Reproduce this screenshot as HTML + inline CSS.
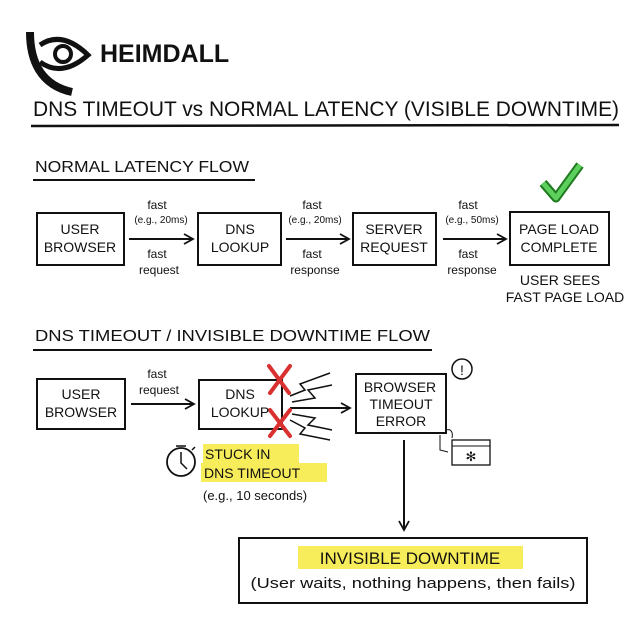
<!DOCTYPE html>
<html><head><meta charset="utf-8"><style>
html,body{margin:0;padding:0;background:#fff}
svg{display:block}
text{font-family:"Liberation Sans",sans-serif;fill:#111}
.b{font-size:14px}
.s{font-size:11px}
</style></head><body>
<svg width="640" height="640" viewBox="0 0 640 640" xmlns="http://www.w3.org/2000/svg">
<defs><marker id="ah" markerWidth="12" markerHeight="12" refX="10" refY="6" orient="auto" markerUnits="userSpaceOnUse"><path d="M1,1 L10,6 L1,11" fill="none" stroke="#111" stroke-width="1.8"/></marker></defs>
<!-- logo -->
<g fill="none" stroke="#111">
<path d="M30,32 C30,60 40,85 72,92" stroke-width="8"/>
<path d="M40,45 Q62,30 88,55 Q62,78 40,62" stroke-width="5"/>
<circle cx="63" cy="54" r="8" stroke-width="4"/>
</g>
<text x="100" y="62" style="font-size:25px;font-weight:bold">HEIMDALL</text>
<!-- title -->
<text x="33" y="116" style="font-size:21px" textLength="586" lengthAdjust="spacingAndGlyphs">DNS TIMEOUT vs NORMAL LATENCY (VISIBLE DOWNTIME)</text>
<path d="M31,126 L619,125" stroke="#111" stroke-width="2.5"/>
<text x="35" y="172" style="font-size:16px" textLength="214" lengthAdjust="spacingAndGlyphs">NORMAL LATENCY FLOW</text>
<path d="M33,180 L255,180" stroke="#111" stroke-width="2"/>
<!-- row1 boxes -->
<g fill="none" stroke="#111" stroke-width="2">
<rect x="37" y="213" width="87" height="52"/>
<rect x="198" y="213" width="83" height="52"/>
<rect x="353" y="213" width="83" height="52"/>
<rect x="510" y="212" width="99" height="53"/>
<line x1="129" y1="239" x2="193" y2="239" marker-end="url(#ah)"/>
<line x1="286" y1="239" x2="349" y2="239" marker-end="url(#ah)"/>
<line x1="443" y1="239" x2="506" y2="239" marker-end="url(#ah)"/>
</g>
<g class="b" text-anchor="middle">
<text x="80" y="234">USER</text><text x="80" y="252">BROWSER</text>
<text x="240" y="234">DNS</text><text x="240" y="252">LOOKUP</text>
<text x="394" y="234">SERVER</text><text x="394" y="252">REQUEST</text>
<text x="559" y="234">PAGE LOAD</text><text x="559" y="252">COMPLETE</text>
<text x="560" y="285">USER SEES</text><text x="565" y="302">FAST PAGE LOAD</text>
</g>
<g class="s" text-anchor="middle">
<text x="157" y="209" style="font-size:12px">fast</text><text x="161" y="223" style="font-size:10px">(e.g., 20ms)</text>
<text x="157" y="258" style="font-size:12px">fast</text><text x="159" y="274" style="font-size:12px">request</text>
<text x="312" y="209" style="font-size:12px">fast</text><text x="315" y="223" style="font-size:10px">(e.g., 20ms)</text>
<text x="312" y="258" style="font-size:12px">fast</text><text x="315" y="274" style="font-size:12px">response</text>
<text x="468" y="209" style="font-size:12px">fast</text><text x="472" y="223" style="font-size:10px">(e.g., 50ms)</text>
<text x="468" y="258" style="font-size:12px">fast</text><text x="472" y="274" style="font-size:12px">response</text>
</g>
<path d="M543,183 L556,198 L580,165" fill="none" stroke="#1f7a1f" stroke-width="9" stroke-linejoin="round"/>
<path d="M543,183 L556,198 L580,165" fill="none" stroke="#5ccf5c" stroke-width="5" stroke-linejoin="round"/>
<!-- section 2 -->
<text x="35" y="341" style="font-size:16px" textLength="395" lengthAdjust="spacingAndGlyphs">DNS TIMEOUT / INVISIBLE DOWNTIME FLOW</text>
<path d="M33,350 L432,350" stroke="#111" stroke-width="2"/>
<g fill="none" stroke="#111" stroke-width="2">
<rect x="37" y="379" width="88" height="50"/>
<rect x="199" y="380" width="83" height="49"/>
<rect x="356" y="374" width="90" height="59"/>
<line x1="131" y1="404" x2="194" y2="404" marker-end="url(#ah)"/>
<path d="M290,396 L305,390 L300,384 L330,373" stroke-width="1.5"/>
<path d="M292,402 L315,398 L308,390 L332,385" stroke-width="1.5"/>
<line x1="290" y1="408" x2="350" y2="408" marker-end="url(#ah)"/>
<path d="M292,414 L315,418 L308,425 L332,430" stroke-width="1.5"/>
<path d="M290,420 L305,428 L300,434 L330,440" stroke-width="1.5"/>
<circle cx="462" cy="369" r="10" stroke-width="1.5"/>
<rect x="452" y="440" width="38" height="25" stroke-width="1.3"/>
<line x1="452" y1="446" x2="490" y2="446" stroke-width="1"/>
<path d="M446,430 C452,428 453,434 452,438 M440,435 L440,450 L448,452" stroke-width="1"/>
<line x1="404" y1="440" x2="404" y2="530" marker-end="url(#ah)"/>
<circle cx="181" cy="462" r="14" stroke-width="1.8"/>
<path d="M181,452 L181,463 L187,469 M176,446 L186,446 M192,450 L195,447" stroke-width="1.5"/>
<rect x="239" y="538" width="348" height="65"/>
</g>
<text x="462" y="375" text-anchor="middle" style="font-size:14px">!</text>
<text x="471" y="461" text-anchor="middle" style="font-size:13px">✻</text>
<g stroke="#d93030" stroke-width="4" stroke-linecap="round">
<path d="M269,366 L289,393 M290,366 L270,393"/>
<path d="M270,410 L290,436 M290,410 L270,436"/>
</g>
<g class="b" text-anchor="middle">
<text x="81" y="399">USER</text><text x="81" y="417">BROWSER</text>
<text x="240" y="399">DNS</text><text x="240" y="417">LOOKUP</text>
<text x="400" y="392">BROWSER</text><text x="401" y="409">TIMEOUT</text><text x="401" y="426">ERROR</text>
</g>
<text x="157" y="378" text-anchor="middle" style="font-size:12px">fast</text>
<text x="159" y="394" text-anchor="middle" style="font-size:12px">request</text>
<rect x="203" y="444" width="96" height="19" fill="#f7ec5a"/>
<rect x="201" y="463" width="126" height="19" fill="#f7ec5a"/>
<text x="205" y="459" class="b">STUCK IN</text>
<text x="204" y="478" class="b">DNS TIMEOUT</text>
<text x="203" y="500" style="font-size:13px">(e.g., 10 seconds)</text>
<rect x="298" y="546" width="225" height="23" fill="#f7ec5a"/>
<text x="410" y="564" text-anchor="middle" style="font-size:17px">INVISIBLE DOWNTIME</text>
<text x="413" y="588" text-anchor="middle" style="font-size:15px" textLength="325" lengthAdjust="spacingAndGlyphs">(User waits, nothing happens, then fails)</text>
</svg>
</body></html>
